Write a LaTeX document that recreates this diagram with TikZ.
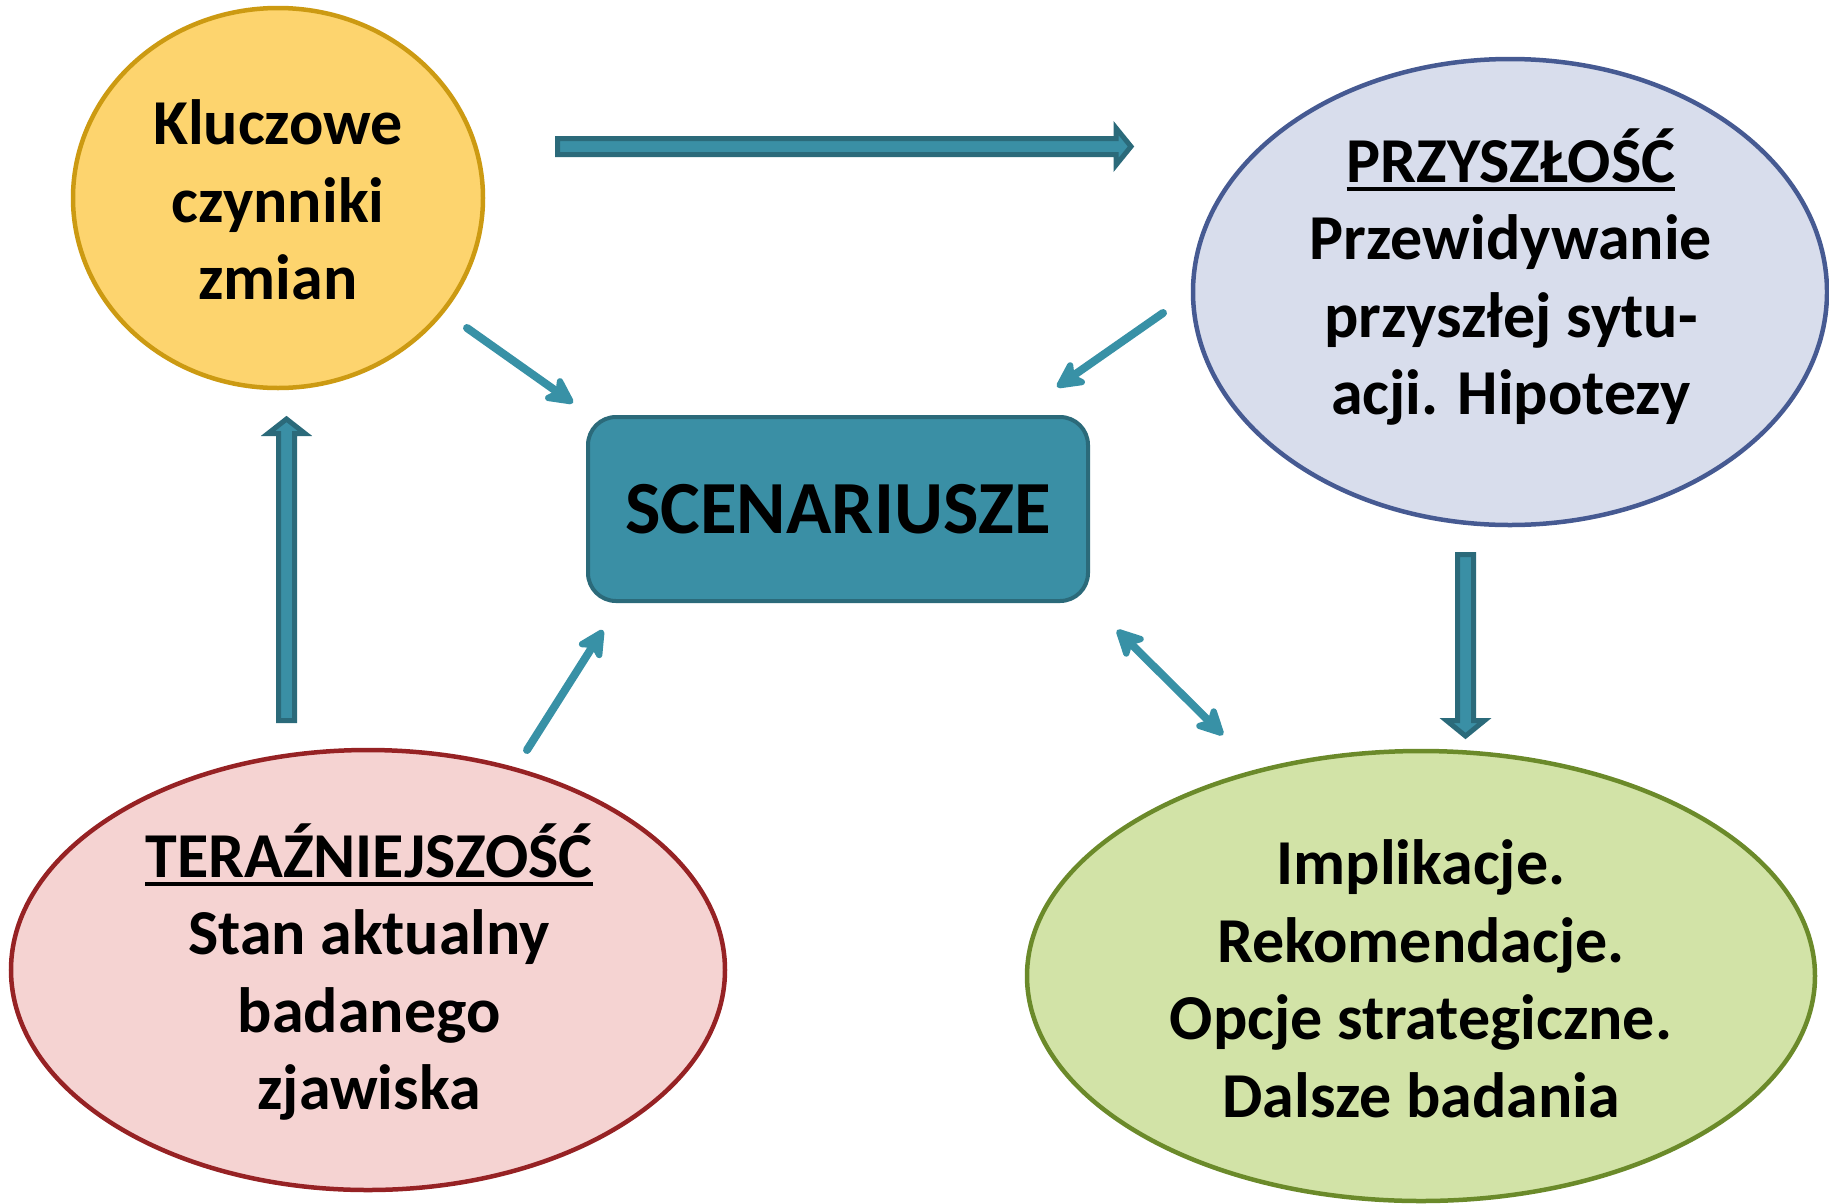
\documentclass[tikz,border=0pt]{standalone}
\usepackage{fontspec}
\setmainfont{Carlito}
\usetikzlibrary{shapes.geometric,arrows.meta,calc}
\definecolor{yfill}{HTML}{FDD46E}
\definecolor{ydraw}{HTML}{CC9A12}
\definecolor{bfill}{HTML}{D8DDEC}
\definecolor{bdraw}{HTML}{465A92}
\definecolor{pfill}{HTML}{F5D3D2}
\definecolor{pdraw}{HTML}{962224}
\definecolor{gfill}{HTML}{D2E3A7}
\definecolor{gdraw}{HTML}{6B8A2A}
\definecolor{boxfill}{HTML}{3A8FA5}
\definecolor{boxdraw}{HTML}{2B6A7A}
\definecolor{arr}{HTML}{3891A6}
\newcommand\myul[1]{\setbox0=\hbox{#1}\rlap{\rule[-9pt]{\wd0}{4pt}}\box0}
\tikzset{
  oval/.style={ellipse, line width=4.5pt, inner sep=0pt},
  txt/.style={align=center, font=\bfseries\fontsize{64}{77.5}\selectfont, inner sep=0pt},
  thinarr/.style={line width=8pt, draw=arr, line cap=round, line join=round,
    arrows={-Stealth[length=34pt,width=34pt,inset=9pt,round]}},
  blockarr/.style={fill=boxfill, draw=boxdraw, line width=5pt, line join=miter}
}
\begin{document}
\begin{tikzpicture}[x=1pt,y=-1pt]
\useasboundingbox (0,0) rectangle (1829,1203);
% ellipses
\node[oval, fill=yfill, draw=ydraw, minimum width=410pt, minimum height=380pt] (key) at (278,198) {};
\node[oval, fill=bfill, draw=bdraw, minimum width=634pt, minimum height=466pt] (fut) at (1510,292) {};
\node[oval, fill=pfill, draw=pdraw, minimum width=714pt, minimum height=440pt] (pres) at (368,970) {};
\node[oval, fill=gfill, draw=gdraw, minimum width=788pt, minimum height=450pt] (impl) at (1421,976) {};
% texts
\node[txt] (keyt) at (278,200) {Kluczowe\\czynniki\\zmian};
\node[txt] (futt) at (1511,277) {\myul{PRZYSZŁOŚĆ}\\Przewidywanie\\przyszłej sytu-\\acji. Hipotezy};
\node[txt] (prest) at (369,972) {\myul{TERAŹNIEJSZOŚĆ}\\Stan aktualny\\badanego\\zjawiska};
\node[txt] (implt) at (1421,979) {Implikacje.\\Rekomendacje.\\Opcje strategiczne.\\Dalsze badania};
% central box
\node[draw=boxdraw, fill=boxfill, line width=4pt, rounded corners=28pt,
      minimum width=500pt, minimum height=184pt, inner sep=0pt,
      font=\bfseries\fontsize{75}{90}\selectfont] (scen) at (838,509) {SCENARIUSZE};
% block arrows
\coordinate (h1) at (557.5,146.5);
\coordinate (h2) at (1131,146.5);
\filldraw[blockarr] ($(h1)+(0,-8)$) -- ($(h2)+(-15,-8)$) -- ($(h2)+(-15,-18.5)$) -- (h2)
  -- ($(h2)+(-15,18.5)$) -- ($(h2)+(-15,8)$) -- ($(h1)+(0,8)$) -- cycle;
\coordinate (u1) at (286.5,720.5);
\coordinate (u2) at (286.5,419);
\filldraw[blockarr] ($(u1)+(-8,0)$) -- ($(u2)+(-8,14.5)$) -- ($(u2)+(-18.5,14.5)$) -- (u2)
  -- ($(u2)+(18.5,14.5)$) -- ($(u2)+(8,14.5)$) -- ($(u1)+(8,0)$) -- cycle;
\coordinate (d1) at (1465.5,554.5);
\coordinate (d2) at (1465.5,736);
\filldraw[blockarr] ($(d1)+(-8,0)$) -- ($(d2)+(-8,-15.5)$) -- ($(d2)+(-19,-15.5)$) -- (d2)
  -- ($(d2)+(19,-15.5)$) -- ($(d2)+(8,-15.5)$) -- ($(d1)+(8,0)$) -- cycle;
% thin arrows
\coordinate (a1s) at (467,328);
\coordinate (a1e) at (573,403);
\coordinate (a2s) at (1163,313);
\coordinate (a2e) at (1057,387);
\coordinate (a3s) at (1117,630);
\coordinate (a3e) at (1223,735);
\coordinate (a4s) at (527,750);
\coordinate (a4e) at (603,630);
\draw[thinarr] (a1s) -- (a1e);
\draw[thinarr] (a2s) -- (a2e);
\draw[thinarr, arrows={Stealth[length=34pt,width=34pt,inset=9pt,round]-Stealth[length=34pt,width=34pt,inset=9pt,round]}] (a3s) -- (a3e);
\draw[thinarr] (a4s) -- (a4e);
\end{tikzpicture}
\end{document}
